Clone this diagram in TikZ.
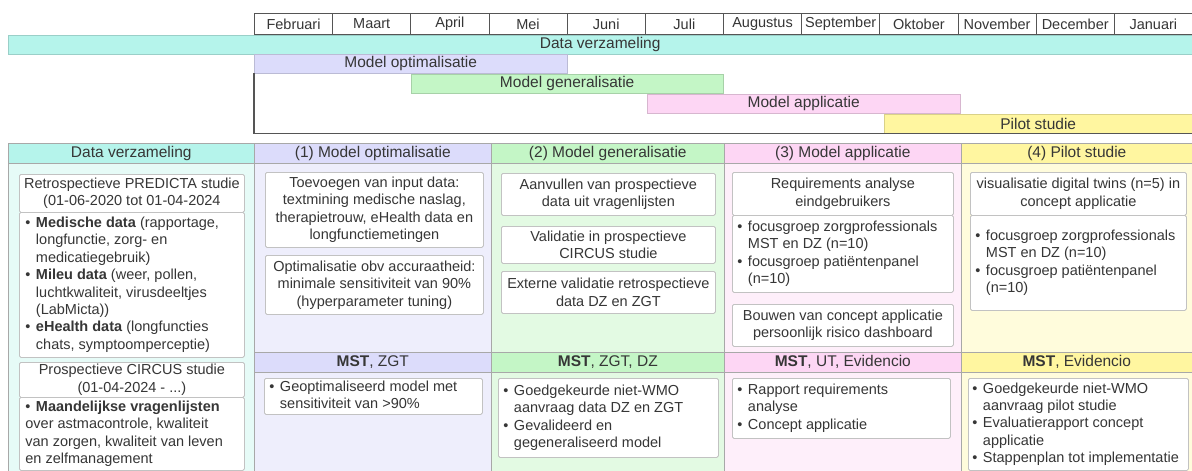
\documentclass[tikz,border=0pt]{standalone}
\usepackage{fontspec}
\setmainfont{Liberation Sans}
\definecolor{txt}{HTML}{363636}
\definecolor{tealH}{HTML}{B5F4EB}
\definecolor{tealL}{HTML}{E6FBF7}
\definecolor{lavH}{HTML}{DCDCFB}
\definecolor{lavL}{HTML}{EEEEFC}
\definecolor{grnH}{HTML}{C4F6C6}
\definecolor{grnL}{HTML}{E3FAE3}
\definecolor{pnkH}{HTML}{FDD6F4}
\definecolor{pnkL}{HTML}{FEEFFA}
\definecolor{ylwH}{HTML}{FFF6A0}
\definecolor{ylwL}{HTML}{FFFCDC}
\definecolor{boxline}{HTML}{C2C2C2}
\definecolor{colline}{HTML}{A8A8A8}
\definecolor{darkln}{HTML}{555555}
\newcommand\fs{\fontsize{14.5}{17.4}\selectfont}
\newcommand\fh{\fontsize{15.5}{18}\selectfont}
\newcommand\bul[2][210pt]{\makebox[#1][l]{\begin{tabular}{@{}l@{\hspace{5.5pt}}l@{}}#2\end{tabular}}}
\begin{document}
\begin{tikzpicture}[x=1pt,y=-1pt,
  every node/.style={text=txt},
  month/.style={draw=darkln, line width=0.9pt, fill=white, minimum width=78.17pt, minimum height=21pt, inner sep=0pt, anchor=north west, font=\fs},
  bar/.style={draw=#1!85!black, line width=0.4pt, fill=#1, minimum height=19pt, inner sep=0pt, anchor=north west, font=\fh},
  colbg/.style={draw=colline, line width=0.6pt, fill=#1, minimum height=332pt, inner sep=0pt, anchor=north west},
  hdr/.style={draw=colline, line width=0.6pt, fill=#1, minimum height=20pt, inner sep=0pt, anchor=north west, font=\fh},
  wbox/.style={draw=boxline, line width=0.8pt, fill=white, rounded corners=1.5pt, inner sep=0pt, anchor=north west, font=\fs, align=center},
]
\useasboundingbox (0,0) rectangle (1192,471);

% ---------- timeline ----------
\foreach \m [count=\i from 0] in {Februari,Maart,April,Mei,Juni,Juli,Augustus,September,Oktober,November,December,Januari}
  \node[month] (m\i) at ({254+\i*78.1667},13) {\m};

\node[bar=tealH, minimum width=1184pt] (b0) at (8,35) {Data verzameling};
\node[bar=lavH, minimum width=313pt] (b1) at (254,54) {Model optimalisatie};
\node[bar=grnH, minimum width=312pt] (b2) at (411,74) {Model generalisatie};
\node[bar=pnkH, minimum width=313pt] (b3) at (647,94) {Model applicatie};
\node[bar=ylwH, minimum width=308pt] (b4) at (884,114) {Pilot studie};

\coordinate (brk) at (b1.south west |- b4.south);
\draw[darkln, line width=1.2pt] (b1.south west) -- (brk) -- (b4.south east);

% ---------- table columns ----------
\node[colbg=tealL, minimum width=246pt] (c0) at (8,143) {};
\node[colbg=lavL, minimum width=237pt] (c1) at (254,143) {};
\node[colbg=grnL, minimum width=233pt] (c2) at (491,143) {};
\node[colbg=pnkL, minimum width=237pt] (c3) at (724,143) {};
\node[colbg=ylwL, minimum width=231pt] (c4) at (961,143) {};

\node[hdr=tealH, minimum width=246pt] (h0) at (8,143) {Data verzameling};
\node[hdr=lavH, minimum width=237pt] (h1) at (254,143) {(1) Model optimalisatie};
\node[hdr=grnH, minimum width=233pt] (h2) at (491,143) {(2) Model generalisatie};
\node[hdr=pnkH, minimum width=237pt] (h3) at (724,143) {(3) Model applicatie};
\node[hdr=ylwH, minimum width=231pt] (h4) at (961,143) {(4) Pilot studie};

\node[hdr=lavH, minimum width=237pt] (p1) at (254,352) {\textbf{MST}, ZGT};
\node[hdr=grnH, minimum width=233pt] (p2) at (491,352) {\textbf{MST}, ZGT, DZ};
\node[hdr=pnkH, minimum width=237pt] (p3) at (724,352) {\textbf{MST}, UT, Evidencio};
\node[hdr=ylwH, minimum width=231pt] (p4) at (961,352) {\textbf{MST}, Evidencio};

% ---------- column 0 ----------
\node[wbox, minimum width=225pt, minimum height=38pt] (l1t) at (19,174)
  {Retrospectieve PREDICTA studie\\(01-06-2020 tot 01-04-2024};
\node[wbox, minimum width=225pt, minimum height=145pt] (l1b) at (19,212)
  {\bul[213pt]{• & \textbf{Medische data} (rapportage,\\ & longfunctie, zorg- en\\ & medicatiegebruik)\\
   • & \textbf{Mileu data} (weer, pollen,\\ & luchtkwaliteit, virusdeeltjes\\ & (LabMicta))\\
   • & \textbf{eHealth data} (longfuncties\\ & chats, symptoomperceptie)}};
\node[wbox, minimum width=225pt, minimum height=35pt] (l2t) at (19,362)
  {Prospectieve CIRCUS studie\\(01-04-2024 - ...)};
\node[wbox, minimum width=225pt, minimum height=73pt] (l2b) at (19,397)
  {\bul[213pt]{• & \textbf{Maandelijkse vragenlijsten}\\ \multicolumn{2}{@{}l@{}}{over astmacontrole, kwaliteit}\\
   \multicolumn{2}{@{}l@{}}{van zorgen, kwaliteit van leven}\\ \multicolumn{2}{@{}l@{}}{en zelfmanagement}}};

% ---------- column 1 ----------
\node[wbox, minimum width=218pt, minimum height=75pt] (o1) at (265,172)
  {Toevoegen van input data:\\textmining medische naslag,\\therapietrouw, eHealth data en\\longfunctiemetingen};
\node[wbox, minimum width=218pt, minimum height=59pt] (o2) at (265,255)
  {Optimalisatie obv accuraatheid:\\minimale sensitiviteit van 90\%\\(hyperparameter tuning)};
\node[wbox, minimum width=218pt, minimum height=36pt] (o3) at (264,378)
  {\bul[208pt]{• & Geoptimaliseerd model met\\ & sensitiviteit van >90\%}};

% ---------- column 2 ----------
\node[wbox, minimum width=214pt, minimum height=42pt] (g1) at (501,173)
  {Aanvullen van prospectieve\\data uit vragenlijsten};
\node[wbox, minimum width=214pt, minimum height=37pt] (g2) at (501,226)
  {Validatie in prospectieve\\CIRCUS studie};
\node[wbox, minimum width=214pt, minimum height=42pt] (g3) at (501,271)
  {Externe validatie retrospectieve\\data DZ en ZGT};
\node[wbox, minimum width=220pt, minimum height=79pt] (g4) at (498,378)
  {\bul[210pt]{• & Goedgekeurde niet-WMO\\ & aanvraag data DZ en ZGT\\ • & Gevalideerd en\\ & gegeneraliseerd model}};

% ---------- column 3 ----------
\node[wbox, minimum width=221pt, minimum height=43pt] (a1t) at (732,172)
  {Requirements analyse\\eindgebruikers};
\node[wbox, minimum width=221pt, minimum height=77pt] (a1b) at (732,215)
  {\bul[211pt]{• & focusgroep zorgprofessionals\\ & MST en DZ (n=10)\\ • & focusgroep patiëntenpanel\\ & (n=10)}};
\node[wbox, minimum width=221pt, minimum height=42pt] (a2) at (732,304)
  {Bouwen van concept applicatie\\persoonlijk risico dashboard};
\node[wbox, minimum width=218pt, minimum height=60pt] (a3) at (732,378)
  {\bul[208pt]{• & Rapport requirements\\ & analyse\\ • & Concept applicatie}};

% ---------- column 4 ----------
\node[wbox, minimum width=216pt, minimum height=43pt] (s1t) at (970,172)
  {visualisatie digital twins (n=5) in\\concept applicatie};
\node[wbox, minimum width=216pt, minimum height=95pt] (s1b) at (970,215)
  {\bul[206pt]{• & focusgroep zorgprofessionals\\ & MST en DZ (n=10)\\ • & focusgroep patiëntenpanel\\ & (n=10)}};
\node[wbox, minimum width=220pt, minimum height=92pt] (s2) at (968,378)
  {\bul[212pt]{• & Goedgekeurde niet-WMO\\ & aanvraag pilot studie\\ • & Evaluatierapport concept\\ & applicatie\\ • & Stappenplan tot implementatie}};
\end{tikzpicture}
\end{document}
